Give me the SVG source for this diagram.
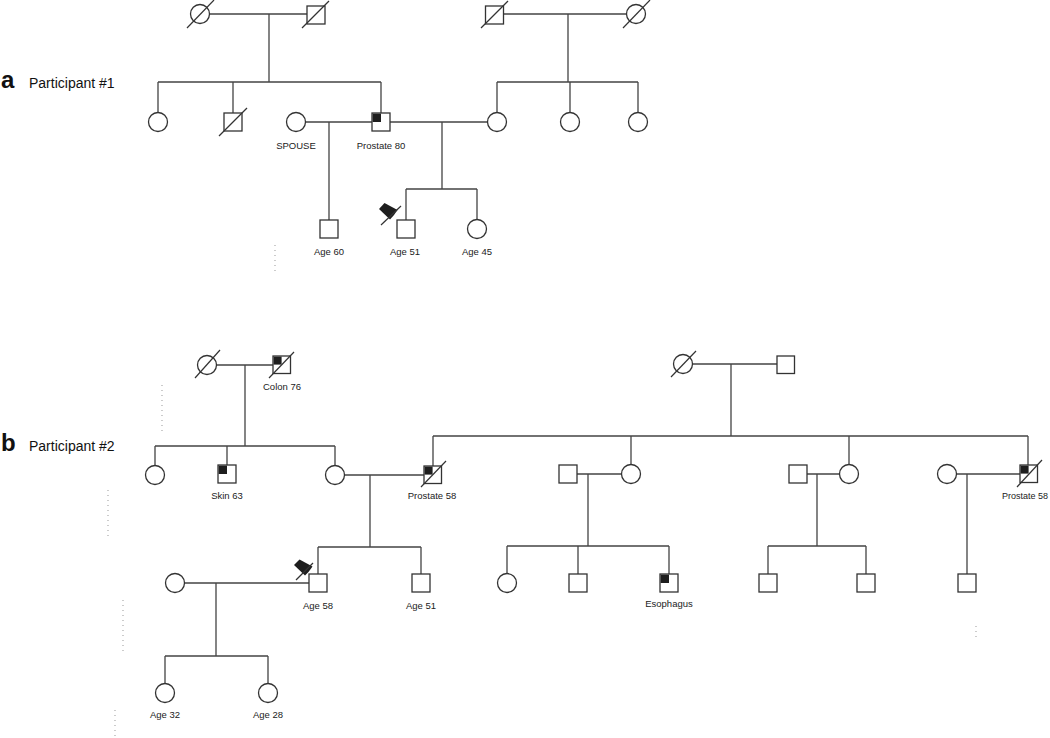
<svg xmlns="http://www.w3.org/2000/svg" width="1050" height="738" viewBox="0 0 1050 738">
<style>
.sh{fill:#fff;stroke:#333;stroke-width:1.3}
.ln{stroke:#444;stroke-width:1.3;fill:none}
.sl{stroke:#333;stroke-width:1.2}
.fq{fill:#1e1e1e}
.lb{font-family:"Liberation Sans",Arial,sans-serif;font-size:9.5px;fill:#222;text-anchor:middle}
.pl{font-family:"Liberation Sans",Arial,sans-serif;font-size:14px;fill:#111}
.big{font-family:"Liberation Sans",Arial,sans-serif;font-size:24px;font-weight:bold;fill:#111}
.art{stroke:#aaa;stroke-width:1.2;stroke-dasharray:1 4;fill:none}
</style>
<rect width="1050" height="738" fill="#fff"/>

<!-- panel labels -->
<text class="big" x="1" y="88">a</text>
<text class="pl" x="29" y="88">Participant #1</text>
<text class="big" x="1" y="451">b</text>
<text class="pl" x="29" y="451">Participant #2</text>

<!-- scan artifacts -->
<g id="artifacts">
<line class="art" x1="275" y1="245" x2="275" y2="272"/>
<line class="art" x1="162" y1="385" x2="162" y2="432"/>
<line class="art" x1="108" y1="490" x2="108" y2="540"/>
<line class="art" x1="123" y1="600" x2="123" y2="652"/>
<line class="art" x1="115" y1="710" x2="115" y2="738"/>
<line class="art" x1="976" y1="626" x2="976" y2="640"/>
</g>

<!-- connectors -->
<g id="connectors">
<path class="ln" d="M209.5 14H307M269 14V82M158 82H381M158 82V112.5M233 82V113M381 82V113"/>
<path class="ln" d="M503.5 14H626.5M568 14V82M497 82H638M497 82V112.5M570 82V112.5M638 82V112.5"/>
<path class="ln" d="M305.5 122H372M329 122V220"/>
<path class="ln" d="M390 122H487.5M442 122V189M406 189H477M406 189V220M477 189V219.5"/>
<path class="ln" d="M216.5 365H273M245 365V446M155 446H335M155 446V465.5M227 446V465M335 446V465.5"/>
<path class="ln" d="M344.5 475H424M370 475V547M318 547H421M318 547V574M421 547V574"/>
<path class="ln" d="M184.5 583H309M216 583V656M165 656H268M165 656V683.5M268 656V683.5"/>
<path class="ln" d="M692.5 364H777M731 364V436M433 436H1028M433 436V466M631 436V464.5M849 436V464.5M1028 436V465"/>
<path class="ln" d="M577 474H621.5M588 474V546M507 546H669M507 546V573.5M578 546V574M669 546V574"/>
<path class="ln" d="M807 474H839.5M817 474V546M768 546H866M768 546V574M866 546V574"/>
<path class="ln" d="M956.5 474H1020M967 474V574"/>
</g>

<!-- panel a nodes -->
<g id="a_gm1"><circle class="sh" cx="200" cy="14" r="9.5"/><line class="sl" x1="187" y1="28" x2="214" y2="0"/></g>
<g id="a_gf1"><rect class="sh" x="307" y="6" width="18" height="18"/><line class="sl" x1="302" y1="28" x2="329" y2="1"/></g>
<g id="a_gf2"><rect class="sh" x="485.5" y="6" width="18" height="18"/><line class="sl" x1="481" y1="28" x2="508" y2="1"/></g>
<g id="a_gm2"><circle class="sh" cx="636" cy="14" r="9.5"/><line class="sl" x1="623" y1="28" x2="650" y2="0"/></g>
<g id="a_aunt1"><circle class="sh" cx="158" cy="122" r="9.5"/></g>
<g id="a_uncle1"><rect class="sh" x="224" y="113" width="18" height="18"/><line class="sl" x1="219" y1="136" x2="247" y2="108"/></g>
<g id="a_spouse"><circle class="sh" cx="296" cy="122" r="9.5"/><text class="lb" x="296" y="149">SPOUSE</text></g>
<g id="a_father"><rect class="sh" x="372" y="113" width="18" height="18"/><rect class="fq" x="372.6" y="113.6" width="8.4" height="8.4"/><text class="lb" x="381" y="149">Prostate 80</text></g>
<g id="a_mother"><circle class="sh" cx="497" cy="122" r="9.5"/></g>
<g id="a_aunt2"><circle class="sh" cx="570" cy="122" r="9.5"/></g>
<g id="a_aunt3"><circle class="sh" cx="638" cy="122" r="9.5"/></g>
<g id="a_halfbrother"><rect class="sh" x="320" y="220" width="18" height="18"/><text class="lb" x="329" y="255">Age 60</text></g>
<g id="a_proband"><rect class="sh" x="397" y="220" width="18" height="18"/>
<polygon fill="#1e1e1e" points="379,209 384.5,203 397.5,210 394,215 390,219.5"/>
<line class="sl" x1="381" y1="225" x2="401" y2="206"/>
<text class="lb" x="405" y="255">Age 51</text></g>
<g id="a_sister"><circle class="sh" cx="477" cy="229" r="9.5"/><text class="lb" x="477" y="255">Age 45</text></g>

<!-- panel b nodes -->
<g id="b_gm1"><circle class="sh" cx="207" cy="365" r="9.5"/><line class="sl" x1="195" y1="378" x2="220" y2="350"/></g>
<g id="b_gf1"><rect class="sh" x="273" y="356" width="17.5" height="17.5"/><rect class="fq" x="273.6" y="356.6" width="8" height="8"/><line class="sl" x1="269" y1="378" x2="294" y2="352"/><text class="lb" x="282" y="390">Colon 76</text></g>
<g id="b_aunt1"><circle class="sh" cx="155" cy="475" r="9.5"/></g>
<g id="b_uncle1"><rect class="sh" x="218" y="465" width="18" height="18"/><rect class="fq" x="218.6" y="465.6" width="8.4" height="8.4"/><text class="lb" x="227" y="499">Skin 63</text></g>
<g id="b_mother"><circle class="sh" cx="335" cy="475" r="9.5"/></g>
<g id="b_father"><rect class="sh" x="424" y="466" width="17.5" height="17.5"/><rect class="fq" x="424.6" y="466.6" width="8" height="8"/><line class="sl" x1="421" y1="487" x2="446" y2="461"/><text class="lb" x="432" y="499">Prostate 58</text></g>
<g id="b_wife"><circle class="sh" cx="175" cy="583" r="9.5"/></g>
<g id="b_proband"><rect class="sh" x="309" y="574" width="18" height="18"/>
<polygon fill="#1e1e1e" points="294,565 299.5,559.5 312.5,566.5 308.5,572 305,575.5"/>
<line class="sl" x1="296" y1="580" x2="313" y2="563"/>
<text class="lb" x="318" y="609">Age 58</text></g>
<g id="b_brother"><rect class="sh" x="412" y="574" width="18" height="18"/><text class="lb" x="421" y="609">Age 51</text></g>
<g id="b_daughter1"><circle class="sh" cx="165" cy="693" r="9.5"/><text class="lb" x="165" y="718">Age 32</text></g>
<g id="b_daughter2"><circle class="sh" cx="268" cy="693" r="9.5"/><text class="lb" x="268" y="718">Age 28</text></g>

<g id="b_gm2"><circle class="sh" cx="683" cy="364" r="9.5"/><line class="sl" x1="671" y1="377" x2="696" y2="351"/></g>
<g id="b_gf2"><rect class="sh" x="777" y="356" width="17.5" height="17.5"/></g>

<g id="b_uncle2"><rect class="sh" x="559" y="465" width="18" height="18"/></g>
<g id="b_aunt2"><circle class="sh" cx="631" cy="474" r="9.5"/></g>
<g id="b_cousin1"><circle class="sh" cx="507" cy="583" r="9.5"/></g>
<g id="b_cousin2"><rect class="sh" x="569" y="574" width="18" height="18"/></g>
<g id="b_cousin3"><rect class="sh" x="660" y="574" width="18" height="18"/><rect class="fq" x="660.6" y="574.6" width="8.4" height="8.4"/><text class="lb" x="669" y="607">Esophagus</text></g>

<g id="b_uncle3"><rect class="sh" x="789" y="465" width="18" height="18"/></g>
<g id="b_aunt3"><circle class="sh" cx="849" cy="474" r="9.5"/></g>
<g id="b_cousin4"><rect class="sh" x="759" y="574" width="18" height="18"/></g>
<g id="b_cousin5"><rect class="sh" x="857" y="574" width="18" height="18"/></g>

<g id="b_aunt4"><circle class="sh" cx="947" cy="474" r="9.5"/></g>
<g id="b_uncle4"><rect class="sh" x="1020" y="465" width="17.5" height="17.5"/><rect class="fq" x="1020.6" y="465.6" width="8" height="8"/><line class="sl" x1="1017" y1="487" x2="1042" y2="460"/><text class="lb" x="1048" y="499" style="text-anchor:end;font-size:9px">Prostate 58</text></g>
<g id="b_cousin6"><rect class="sh" x="958" y="574" width="18" height="18"/></g>
</svg>
